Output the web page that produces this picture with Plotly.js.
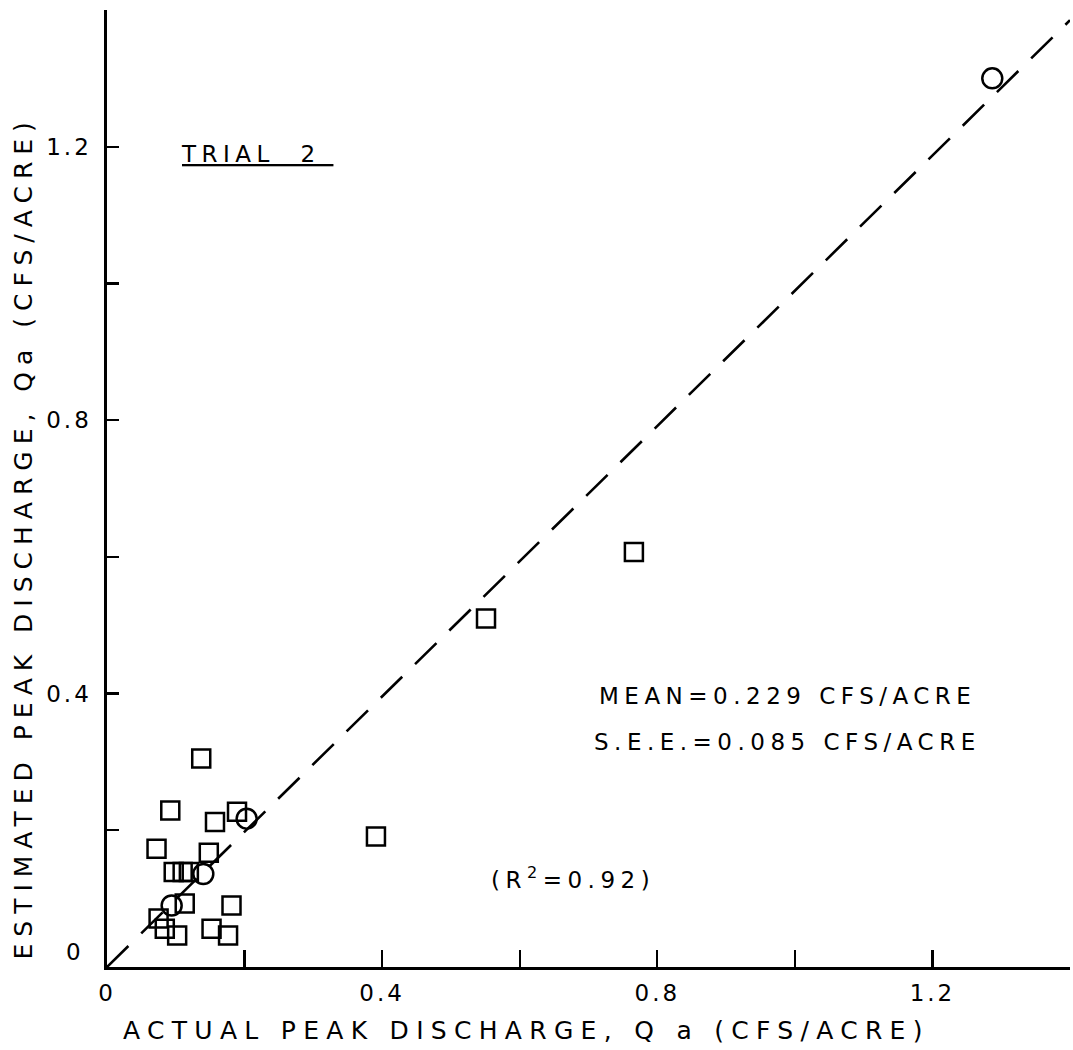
<!DOCTYPE html>
<html>
<head>
<meta charset="utf-8">
<script src="https://cdn.plot.ly/plotly-3.0.1.min.js"></script>
<style>
  html, body { margin: 0; padding: 0; background: #fff; }
  #chart { width: 1073px; height: 1050px; }
  .xtick text, .ytick text { letter-spacing: 3px; }
  .annotation-text { letter-spacing: 5.5px; }
</style>
</head>
<body>
<div id="chart"></div>
<script>
// Circles (one group of observations)
const circleX = [1.287, 0.203, 0.140, 0.094];
const circleY = [1.300, 0.217, 0.136, 0.090];

// Squares (other group of observations)
const squareX = [0.766, 0.551, 0.391, 0.137, 0.092, 0.157, 0.189, 0.072, 0.148,
                 0.097, 0.110, 0.119, 0.113, 0.181, 0.075, 0.084, 0.102, 0.152, 0.176];
const squareY = [0.607, 0.510, 0.191, 0.305, 0.229, 0.212, 0.227, 0.173, 0.167,
                 0.139, 0.139, 0.139, 0.093, 0.090, 0.071, 0.056, 0.046, 0.056, 0.046];

// Line of agreement (dashed)
const lineX = [0, 1.4];
const lineY = [0, 1.385];

// Axis ticks
const xMajorVals = [0, 0.4, 0.8, 1.2];
const xMajorText = ['0', '0.4', '0.8', '1.2'];
const xMinorVals = [0.2, 0.6, 1.0, 1.4];
const yMajorVals = [0.4, 0.8, 1.2];
const yMajorText = ['0.4', '0.8', '1.2'];
const yMinorVals = [0.2, 0.6, 1.0, 1.4];

const FONT = 'DejaVu Sans, Liberation Sans, sans-serif';

const traces = [
  {
    x: lineX, y: lineY, type: 'scatter', mode: 'lines',
    line: { color: '#000', width: 2.6, dash: '30px,18px' },
    hoverinfo: 'skip', showlegend: false
  },
  {
    x: squareX, y: squareY, type: 'scatter', mode: 'markers',
    marker: { symbol: 'square-open', size: 18, color: '#000', line: { color: '#000', width: 2.5 } },
    showlegend: false
  },
  {
    x: circleX, y: circleY, type: 'scatter', mode: 'markers',
    marker: { symbol: 'circle-open', size: 20, color: '#000', line: { color: '#000', width: 2.5 } },
    showlegend: false
  }
];

const axisCommon = {
  range: [0, 1.4],
  tickmode: 'array',
  ticks: 'inside',
  tickwidth: 2.4,
  tickcolor: '#000',
  showline: true,
  linecolor: '#000',
  linewidth: 2.6,
  showgrid: false,
  zeroline: false,
  tickfont: { family: FONT, size: 23, color: '#000' },
  fixedrange: true
};

const layout = {
  width: 1073,
  height: 1050,
  margin: { l: 107, r: 3, t: 10, b: 83 },
  paper_bgcolor: '#fff',
  plot_bgcolor: '#fff',
  showlegend: false,
  font: { family: FONT, color: '#000' },
  xaxis: Object.assign({}, axisCommon, {
    tickvals: xMajorVals, ticktext: xMajorText, ticklen: 17, ticklabelstandoff: 4,
    minor: { tickmode: 'array', tickvals: xMinorVals, ticks: 'inside', ticklen: 17, tickwidth: 2.4, tickcolor: '#000', showgrid: false }
  }),
  yaxis: Object.assign({}, axisCommon, {
    tickvals: yMajorVals, ticktext: yMajorText, ticklen: 12, ticklabelstandoff: 8,
    minor: { tickmode: 'array', tickvals: yMinorVals, ticks: 'inside', ticklen: 12, tickwidth: 2.4, tickcolor: '#000', showgrid: false }
  }),
  annotations: [
    { text: '<span style="letter-spacing:3px">0</span>', xref: 'paper', yref: 'y', x: -0.033, y: 0, yshift: 15,
      showarrow: false, xanchor: 'center', font: { family: FONT, size: 23, color: '#000' } },
    { text: '<span style="letter-spacing:7.3px">ACTUAL PEAK DISCHARGE, Q a (CFS/ACRE)</span>',
      xref: 'paper', yref: 'paper',
      x: 0.436, y: -0.066, showarrow: false, xanchor: 'center', yanchor: 'middle',
      font: { family: FONT, size: 25, color: '#000' } },
    { text: '<span style="letter-spacing:7px">ESTIMATED PEAK DISCHARGE, Qa (CFS/ACRE)</span>',
      xref: 'paper', yref: 'paper',
      x: -0.087, y: 0.449, textangle: -90, showarrow: false, xanchor: 'center', yanchor: 'middle',
      font: { family: FONT, size: 25, color: '#000' } },
    { text: '<u>TRIAL  2 </u>', xref: 'x', yref: 'y', x: 0.218, y: 1.19,
      showarrow: false, xanchor: 'center', yanchor: 'middle',
      font: { family: FONT, size: 23, color: '#000' } },
    { text: 'MEAN=0.229 CFS/ACRE', xref: 'x', yref: 'y', x: 0.989, y: 0.397,
      showarrow: false, xanchor: 'center', yanchor: 'middle',
      font: { family: FONT, size: 23, color: '#000' } },
    { text: 'S.E.E.=0.085 CFS/ACRE', xref: 'x', yref: 'y', x: 0.989, y: 0.329,
      showarrow: false, xanchor: 'center', yanchor: 'middle',
      font: { family: FONT, size: 23, color: '#000' } },
    { text: '(R<sup>2</sup>=0.92)', xref: 'x', yref: 'y', x: 0.678, y: 0.13,
      showarrow: false, xanchor: 'center', yanchor: 'middle',
      font: { family: FONT, size: 23, color: '#000' } }
  ]
};

Plotly.newPlot('chart', traces, layout, { staticPlot: true, displayModeBar: false });
</script>
</body>
</html>
